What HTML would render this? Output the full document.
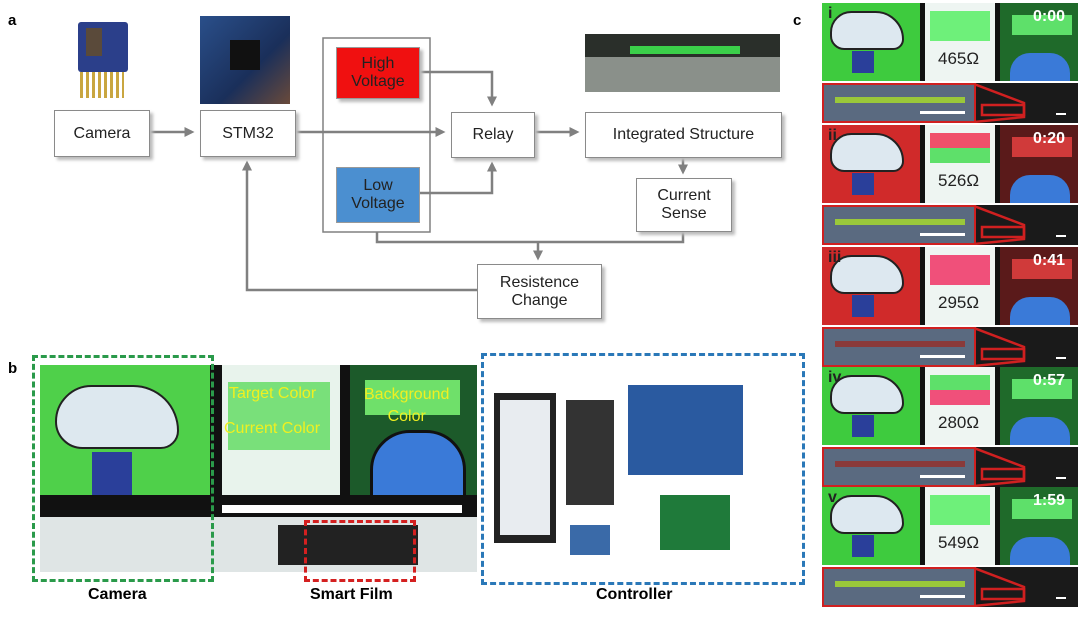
<!DOCTYPE html>
<html><head><meta charset="utf-8"><style>
body{margin:0;width:1080px;height:623px;background:#fff;position:relative;overflow:hidden;font-family:"Liberation Sans",Arial,sans-serif}
.a{position:absolute}
.lbl{font-weight:bold;font-size:15px}
.box{position:absolute;background:#fff;border:1.5px solid #8a8a8a;box-shadow:3px 3px 3px #bbb;display:flex;align-items:center;justify-content:center;text-align:center;font-size:16px;line-height:18px;color:#222}
.cp{position:absolute;left:822px;width:256px}
.t{position:absolute;color:#fff;font-weight:bold;font-size:16px}
.ohm{position:absolute;font-size:17px;color:#222}
</style></head><body>
<div class="a lbl" style="left:8px;top:12px">a</div>
<div class="a lbl" style="left:8px;top:360px">b</div>
<div class="a lbl" style="left:793px;top:12px">c</div>

<!-- panel a photos -->
<div class="a" style="left:78px;top:22px;width:50px;height:50px;background:#2b3f8a;border-radius:3px"></div>
<div class="a" style="left:86px;top:28px;width:16px;height:28px;background:#5a4a3a"></div>
<div class="a" style="left:80px;top:72px;width:44px;height:26px;background:repeating-linear-gradient(90deg,#c9a640 0 3px,#fff 3px 6px)"></div>
<div class="a" style="left:200px;top:16px;width:90px;height:88px;background:linear-gradient(135deg,#2a4f8a,#1a2f5a 60%,#6a4a3a);"></div>
<div class="a" style="left:230px;top:40px;width:30px;height:30px;background:#111"></div>
<div class="a" style="left:585px;top:34px;width:195px;height:58px;background:linear-gradient(#2a2f2a 0 40%,#8a908a 40%)"></div>
<div class="a" style="left:630px;top:46px;width:110px;height:8px;background:#3bd04a"></div>

<svg class="a" style="left:0;top:0" width="800" height="330">
<defs><marker id="ar" markerWidth="4" markerHeight="4" refX="3" refY="2" orient="auto"><path d="M0,0L4,2L0,4z" fill="#808080"/></marker></defs>
<g stroke="#808080" stroke-width="2.5" fill="none">
<rect x="323" y="38" width="107" height="194" stroke-width="1.5"/>
<path d="M148,132H192" marker-end="url(#ar)"/>
<path d="M294,132H443" marker-end="url(#ar)"/>
<path d="M418,72H492V104" marker-end="url(#ar)"/>
<path d="M418,193H492V164" marker-end="url(#ar)"/>
<path d="M533,132H577" marker-end="url(#ar)"/>
<path d="M683,156V172" marker-end="url(#ar)"/>
<path d="M377,232V242H683V230"/>
<path d="M538,242V258" marker-end="url(#ar)"/>
<path d="M477,290H247V163" marker-end="url(#ar)"/>
</g></svg>
<div class="box" style="left:54px;top:110px;width:94px;height:45px">Camera</div>
<div class="box" style="left:200px;top:110px;width:94px;height:45px">STM32</div>
<div class="box" style="left:336px;top:47px;width:82px;height:50px;background:#f01010;border-color:#999">High<br>Voltage</div>
<div class="box" style="left:336px;top:167px;width:82px;height:54px;background:#4b8fd0;border-color:#999;box-shadow:none">Low<br>Voltage</div>
<div class="box" style="left:451px;top:112px;width:82px;height:44px">Relay</div>
<div class="box" style="left:585px;top:112px;width:195px;height:44px">Integrated Structure</div>
<div class="box" style="left:636px;top:178px;width:94px;height:52px">Current<br>Sense</div>
<div class="box" style="left:477px;top:264px;width:123px;height:53px">Resistence<br>Change</div>

<!-- panel b -->
<div class="a" style="left:40px;top:365px;width:437px;height:207px;background:#dfe5e5"></div>
<div class="a" style="left:40px;top:365px;width:170px;height:140px;background:#4fd04a"></div>
<div class="a" style="left:55px;top:385px;width:120px;height:60px;background:#dde8ef;border:2px solid #222;border-radius:40px 50px 20px 30px"></div>
<div class="a" style="left:92px;top:452px;width:40px;height:45px;background:#2a3f9a"></div>
<div class="a" style="left:210px;top:365px;width:12px;height:145px;background:#111"></div>
<div class="a" style="left:222px;top:365px;width:118px;height:135px;background:#e8f3ec"></div>
<div class="a" style="left:228px;top:382px;width:102px;height:68px;background:#79e07a"></div>
<div class="a" style="left:340px;top:365px;width:10px;height:140px;background:#111"></div>
<div class="a" style="left:350px;top:365px;width:127px;height:140px;background:#1c5a2a"></div>
<div class="a" style="left:365px;top:380px;width:95px;height:35px;background:#6fe06a"></div>
<div class="a" style="left:370px;top:430px;width:90px;height:75px;background:#3a7ad8;border-radius:40px 40px 0 0;border:3px solid #111"></div>
<div class="a" style="left:40px;top:495px;width:437px;height:22px;background:#111"></div>
<div class="a" style="left:222px;top:505px;width:240px;height:8px;background:#fff"></div>
<div class="a" style="left:278px;top:525px;width:140px;height:40px;background:#222"></div>
<div class="a" style="left:229px;top:385px;color:#f0f020;font-size:16px">Target Color</div>
<div class="a" style="left:224px;top:420px;color:#f0f020;font-size:16px">Current Color</div>
<div class="a" style="left:364px;top:384px;color:#f0f020;font-size:16px;text-align:center;line-height:22px">Background<br>Color</div>
<div class="a" style="left:32px;top:355px;width:176px;height:221px;border:3px dashed #2a9a4a"></div>
<div class="a" style="left:304px;top:520px;width:106px;height:56px;border:3px dashed #d42020;border-top-width:3px"></div>
<div class="a" style="left:481px;top:353px;width:318px;height:226px;border:3px dashed #2a78b8"></div>
<div class="a" style="left:494px;top:393px;width:62px;height:150px;background:#222"></div>
<div class="a" style="left:500px;top:400px;width:50px;height:135px;background:#e8ecf0"></div>
<div class="a" style="left:566px;top:400px;width:48px;height:105px;background:#333"></div>
<div class="a" style="left:628px;top:385px;width:115px;height:90px;background:#2a5aa0"></div>
<div class="a" style="left:660px;top:495px;width:70px;height:55px;background:#1f7a3a"></div>
<div class="a" style="left:570px;top:525px;width:40px;height:30px;background:#3a6aa8"></div>
<div class="a lbl" style="left:88px;top:586px;font-size:16px">Camera</div>
<div class="a lbl" style="left:310px;top:586px;font-size:16px">Smart Film</div>
<div class="a lbl" style="left:596px;top:586px;font-size:16px">Controller</div>

<!-- panel c -->
<div id="c"></div>
<script>
var d=[["i","0:00","465Ω","#3ecb3e",["#6ef07a"],"#1f6a2a","#5ee06a"],
["ii","0:20","526Ω","#d02a2a",["#f0506a","#5ee06a"],"#5a1a1a","#d03a3a"],
["iii","0:41","295Ω","#d02a2a",["#f0507a"],"#5a1a1a","#d03a3a"],
["iv","0:57","280Ω","#3ecb3e",["#5ee06a","#f0507a"],"#1f6a2a","#5ee06a"],
["v","1:59","549Ω","#3ecb3e",["#6ef07a"],"#1f6a2a","#5ee06a"]];
var tops=[3,125,247,367,487],h="";
d.forEach(function(p,k){var y=tops[k],ph=78,sh=40;
h+='<div class="cp" style="top:'+y+'px;height:'+ph+'px;background:#111"></div>';
h+='<div class="a" style="left:822px;top:'+y+'px;width:98px;height:'+ph+'px;background:'+p[3]+'"></div>';
h+='<div class="a" style="left:830px;top:'+(y+8)+'px;width:70px;height:35px;background:#dde8f0;border:2px solid #222;border-radius:30px 40px 15px 20px"></div>';
h+='<div class="a" style="left:852px;top:'+(y+48)+'px;width:22px;height:22px;background:#2a3f9a"></div>';
h+='<div class="a" style="left:925px;top:'+y+'px;width:70px;height:'+ph+'px;background:#eef5f2"></div>';
var n=p[4].length;p[4].forEach(function(c,j){h+='<div class="a" style="left:930px;top:'+(y+8+j*(30/n))+'px;width:60px;height:'+(30/n)+'px;background:'+c+'"></div>';});
h+='<div class="ohm" style="left:938px;top:'+(y+46)+'px">'+p[2]+'</div>';
h+='<div class="a" style="left:1000px;top:'+y+'px;width:78px;height:'+ph+'px;background:'+p[5]+'"></div>';
h+='<div class="a" style="left:1012px;top:'+(y+12)+'px;width:60px;height:20px;background:'+p[6]+'"></div>';
h+='<div class="a" style="left:1010px;top:'+(y+50)+'px;width:60px;height:28px;background:#3a7ad8;border-radius:20px 20px 0 0"></div>';
h+='<div class="t" style="left:1033px;top:'+(y+5)+'px">'+p[1]+'</div>';
h+='<div class="t" style="left:828px;top:'+(y+2)+'px;color:#222">'+p[0]+'</div>';
var sy=y+ph+2;
h+='<div class="cp" style="top:'+sy+'px;height:'+sh+'px;background:#1a1a1a"></div>';
h+='<div class="a" style="left:822px;top:'+sy+'px;width:150px;height:'+(sh-4)+'px;background:#5a6a80;border:2px solid #d02020"></div>';
h+='<div class="a" style="left:835px;top:'+(sy+14)+'px;width:130px;height:6px;background:'+(k==2||k==3?'#8a3a3a':'#9ac83a')+'"></div>';
h+='<div class="a" style="left:920px;top:'+(sy+28)+'px;width:45px;height:3px;background:#fff"></div>';
h+='<svg class="a" style="left:974px;top:'+sy+'px" width="104" height="'+sh+'"><path d="M0,1L50,20L50,34L0,39" fill="none" stroke="#d02020" stroke-width="2.5"/><rect x="8" y="22" width="42" height="10" fill="none" stroke="#d02020" stroke-width="2.5"/><rect x="82" y="30" width="10" height="2" fill="#fff"/></svg>';
});
document.getElementById("c").innerHTML=h;
</script>
</body></html>
